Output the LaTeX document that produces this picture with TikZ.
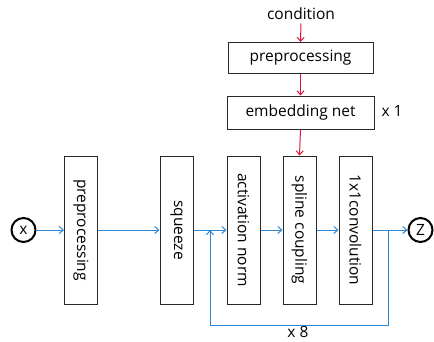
\documentclass[tikz,border=0pt]{standalone}
\usepackage{fontspec}
\setmainfont{Open Sans}
\usetikzlibrary{arrows.meta}
\definecolor{flowblue}{RGB}{45,135,210}
\definecolor{condred}{RGB}{220,20,60}
\definecolor{boxgray}{RGB}{40,40,40}
\begin{document}
\begin{tikzpicture}[x=1pt,y=-1pt,
  font=\fontsize{15.5}{17}\selectfont,
  hbox/.style={draw=boxgray,line width=1pt,minimum width=145pt,minimum height=31pt,inner sep=0pt},
  vbox/.style={draw=boxgray,line width=1pt,minimum width=33pt,minimum height=148pt,inner sep=0pt},
  vtext/.style={rotate=-90},
  io/.style={circle,draw=black,line width=2pt,minimum size=24pt,inner sep=0pt},
  bflow/.style={draw=flowblue,line width=1pt,-{Straight Barb[length=4pt,width=7pt]}},
  bline/.style={draw=flowblue,line width=1pt},
  rflow/.style={draw=condred,line width=1pt,-{Straight Barb[length=4pt,width=7pt]}}]
\useasboundingbox (0,0) rectangle (434,341);
\node (cond) at (301,14) {condition};
\node[hbox] (pre1) at (300.5,58) {preprocessing};
\node[hbox,minimum width=147pt,minimum height=33pt] (emb) at (300.5,112.5) {embedding net};
\node[anchor=west] (x1) at (378,111) {x 1};
\node[vbox] (pre2) at (81,230) {};
\node[vtext] at (pre2) {preprocessing};
\node[vbox] (sq) at (176.5,230) {};
\node[vtext] at (sq) {squeeze};
\node[vbox] (act) at (243.5,230) {};
\node[vtext] at (act) {activation norm};
\node[vbox] (spl) at (299.5,230) {};
\node[vtext] at (spl) {spline coupling};
\node[vbox] (conv) at (355.5,230) {};
\node[vtext] at (conv) {1x1convolution};
\node[io] (x) at (23.5,230) {x};
\node[io] (z) at (420.5,230) {Z};
\node[anchor=base,inner sep=0pt] (x8) at (298,337) {x 8};
\coordinate (split) at (388,230);
\coordinate (loopr) at (388,325);
\coordinate (loopl) at (210,325);
\coordinate (merge) at (210,230);
\draw[rflow] (cond.south) -- (pre1.north);
\draw[rflow] (pre1) -- (emb);
\draw[rflow] (emb.south) -- (spl.north);
\draw[bflow] (x) -- (pre2);
\draw[bflow] (pre2) -- (sq);
\draw[bflow] (sq) -- (act);
\draw[bflow] (act) -- (spl);
\draw[bflow] (spl) -- (conv);
\draw[bflow] (conv) -- (z);
\draw[bline] (split) -- (loopr) -- (loopl);
\draw[bflow] (loopl) -- (merge);
\end{tikzpicture}
\end{document}
